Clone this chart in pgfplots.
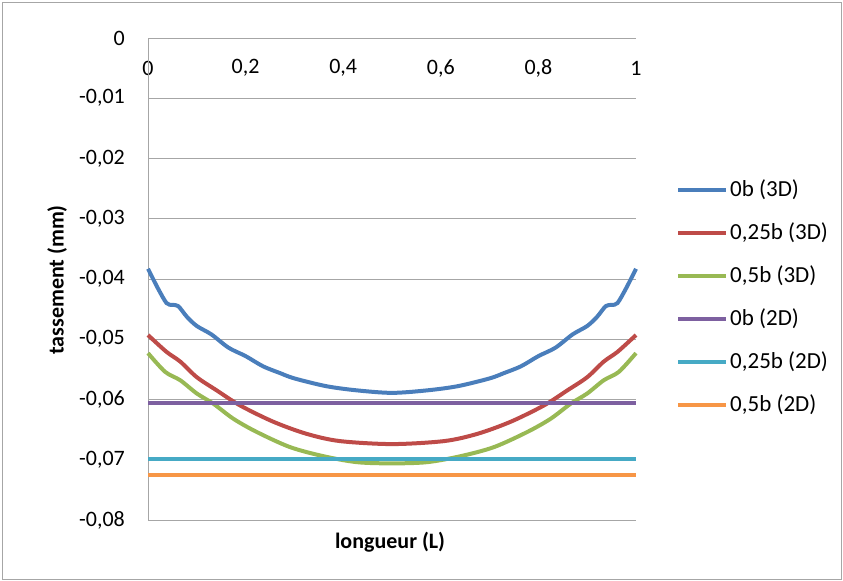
\documentclass[border=0pt]{standalone}
\usepackage{pgfplots}
\pgfplotsset{compat=1.18}
\usepackage{pgfplotstable}
\usepackage{fontspec}
\setmainfont{Carlito}
\definecolor{cblue}{HTML}{4A7EBB}
\definecolor{cred}{HTML}{BE4B48}
\definecolor{cgreen}{HTML}{98B954}
\definecolor{cpurple}{HTML}{7D60A0}
\definecolor{cteal}{HTML}{46AAC5}
\definecolor{corange}{HTML}{F79646}
\definecolor{cgrid}{HTML}{A6A6A6}
\pgfplotstableread{
x y
0 -0.0383
0.02 -0.0415
0.038 -0.0440
0.05 -0.0443
0.062 -0.0445
0.08 -0.0463
0.1 -0.0478
0.13 -0.0492
0.165 -0.0514
0.2 -0.0528
0.236 -0.0545
0.27 -0.0556
0.3 -0.0565
0.366 -0.0578
0.43 -0.0585
0.5 -0.0589
0.57 -0.0585
0.634 -0.0578
0.7 -0.0565
0.73 -0.0556
0.764 -0.0545
0.8 -0.0528
0.835 -0.0514
0.87 -0.0492
0.9 -0.0478
0.92 -0.0463
0.938 -0.0445
0.95 -0.0443
0.962 -0.0440
0.98 -0.0415
1 -0.0383
}\blue
\pgfplotstableread{
x y
0 -0.0493
0.038 -0.0521
0.066 -0.0537
0.1 -0.0563
0.141 -0.0585
0.189 -0.0610
0.257 -0.0637
0.325 -0.0657
0.393 -0.0669
0.5 -0.0674
0.607 -0.0669
0.675 -0.0657
0.743 -0.0637
0.811 -0.0610
0.859 -0.0585
0.9 -0.0563
0.934 -0.0537
0.962 -0.0521
1 -0.0493
}\red
\pgfplotstableread{
x y
0 -0.0523
0.035 -0.0554
0.066 -0.0568
0.1 -0.0590
0.134 -0.0607
0.175 -0.0632
0.223 -0.0654
0.291 -0.0679
0.359 -0.0694
0.428 -0.0704
0.5 -0.0706
0.572 -0.0704
0.641 -0.0694
0.709 -0.0679
0.777 -0.0654
0.825 -0.0632
0.866 -0.0607
0.9 -0.0590
0.934 -0.0568
0.965 -0.0554
1 -0.0523
}\green
\begin{document}
\fontsize{22bp}{26bp}\selectfont
\begin{tikzpicture}
\useasboundingbox (0,0) rectangle (843bp,-581bp);
\draw[cgrid, line width=1bp] (2bp,-2bp) rectangle (841bp,-579bp);
\begin{axis}[
  at={(148bp,-38bp)}, anchor=north west,
  scale only axis, width=488bp, height=482bp,
  xmin=0, xmax=1, ymin=-0.08, ymax=0,
  axis line style={draw=none},
  ymajorgrids, grid style={cgrid, line width=1bp},
  xtick={0,0.2,0.4,0.6,0.8,1},
  ytick={0,-0.01,-0.02,-0.03,-0.04,-0.05,-0.06,-0.07,-0.08},
  scaled y ticks=false,
  major tick length=0pt,
  xticklabel pos=upper,
  xticklabel style={anchor=center, yshift=-30bp},
  yticklabel style={anchor=east, inner sep=0pt, xshift=-23bp},
  /pgf/number format/.cd, use comma, fixed, precision=2, assume math mode=true,
  /pgfplots/.cd,
  xlabel={\textbf{longueur (L)}},
  xlabel style={at={(axis description cs:0.496,-0.046)}, anchor=center},
  clip=false,
  legend style={draw=none, fill=none, at={(axis description cs:1.082,0.7104)}, anchor=north west,
    inner sep=0pt, row sep=18.9bp, cells={anchor=west}, font=\fontsize{23bp}{27bp}\selectfont},
  legend image code/.code={\draw[#1] (0bp,0bp) -- (48bp,0bp);},
  every axis plot/.append style={line width=4bp},
]
\draw[cgrid, line width=1bp] (axis cs:0,0) -- (axis cs:1,0);
\draw[cgrid, line width=1bp] (axis cs:0,0) -- (axis cs:0,-0.08);
\addplot[cblue, smooth] table {\blue};
\addlegendentry{0b (3D)}
\addplot[cred, smooth] table {\red};
\addlegendentry{0,25b (3D)}
\addplot[cgreen, smooth] table {\green};
\addlegendentry{0,5b (3D)}
\addplot[cpurple] coordinates {(0,-0.0606) (1,-0.0606)};
\addlegendentry{0b (2D)}
\addplot[cteal] coordinates {(0,-0.0699) (1,-0.0699)};
\addlegendentry{0,25b (2D)}
\addplot[corange] coordinates {(0,-0.0725) (1,-0.0725)};
\addlegendentry{0,5b (2D)}
\end{axis}
\node[rotate=90, anchor=center, inner sep=0pt] at (57bp,-280bp) {\textbf{tassement (mm)}};
\end{tikzpicture}
\end{document}
